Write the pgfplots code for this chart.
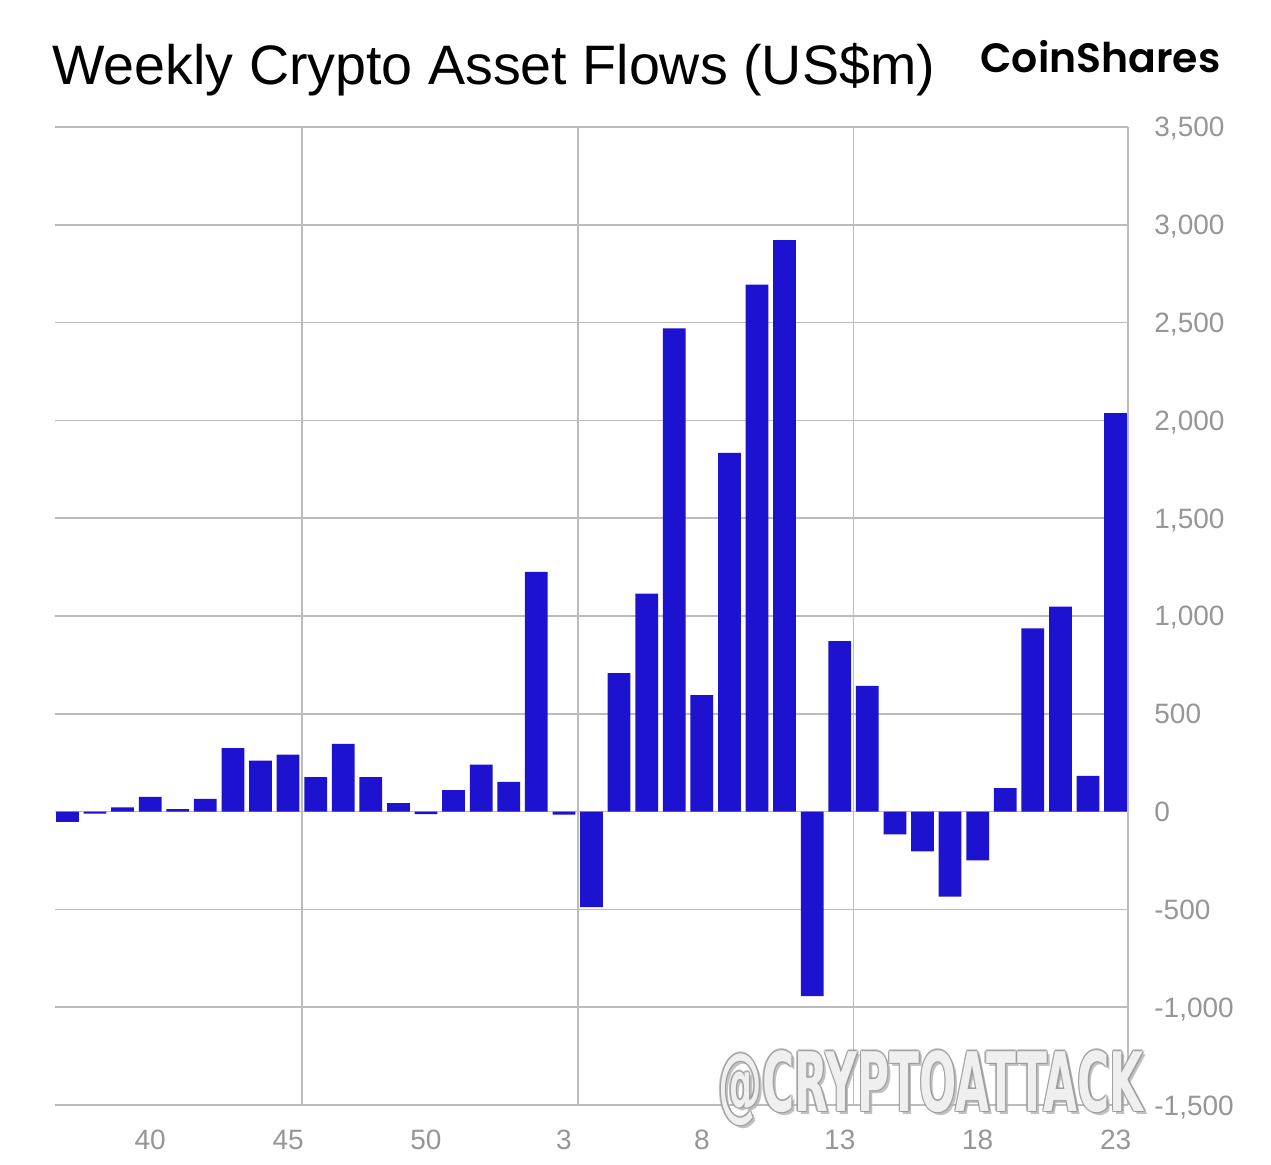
\documentclass[border=0pt]{standalone}
\usepackage{pgfplots}
\pgfplotsset{compat=1.18}
\usetikzlibrary{calc}
\usepackage{fontspec}
\setmainfont{Liberation Sans}
\newfontfamily\coin{Poppins SemiBold}
\newfontfamily\wm{DejaVu Sans}
\definecolor{barblue}{RGB}{28,18,208}
\definecolor{gridgray}{RGB}{188,188,188}
\definecolor{labgray}{RGB}{150,150,150}
\begin{document}
\begin{tikzpicture}
\useasboundingbox (0,0) rectangle (635.5pt,582pt);
\begin{axis}[
  at={(27.5pt,29.5pt)}, anchor=south west,
  scale only axis, width=536.5pt, height=489pt,
  xmin=-0.45, xmax=38.45, ymin=-1500, ymax=3500,
  enlargelimits=false,
  axis line style={draw=none},
  major tick length=0pt,
  ymajorgrids,
  grid style={draw=gridgray, line width=0.85pt},
  ytick={-1500,-1000,-500,0,500,1000,1500,2000,2500,3000,3500},
  yticklabels={{-1,500},{-1,000},{-500},{0},{500},{1,000},{1,500},{2,000},{2,500},{3,000},{3,500}},
  yticklabel pos=right,
  yticklabel style={anchor=base west, inner sep=0pt, xshift=13pt, yshift=-5pt, font=\fontsize{14pt}{16pt}\selectfont, text=labgray},
  xtick={3,8,13,18,23,28,33,38},
  xticklabels={40,45,50,3,8,13,18,23},
  xticklabel style={anchor=base, inner sep=0pt, yshift=-22pt, font=\fontsize{14pt}{16pt}\selectfont, text=labgray},
  extra x ticks={8.5,18.5,28.5,38.45},
  extra x tick labels={},
  extra x tick style={grid=major},
]
\addplot[ybar, bar width=11.35pt, fill=barblue, draw=none] coordinates {
(0,-52) (1,-10) (2,22) (3,75) (4,13) (5,65) (6,325) (7,260) (8,291) (9,176)
(10,346) (11,176) (12,43) (13,-13) (14,110) (15,240) (16,152) (17,1226) (18,-15) (19,-488)
(20,708) (21,1114) (22,2471) (23,596) (24,1834) (25,2694) (26,2922) (27,-943) (28,871) (29,643)
(30,-117) (31,-203) (32,-435) (33,-249) (34,120) (35,937) (36,1048) (37,183) (38,2037)
};
\end{axis}
\node[anchor=base west, inner sep=0pt, font=\fontsize{27.8pt}{31pt}\selectfont] at (26pt,539.5pt) {Weekly Crypto Asset Flows (US\$m)};
\node[anchor=base west, inner sep=0pt] at (490pt,545.6pt) {\resizebox{120pt}{!}{\coin CoinShares}};
% watermark
\begin{scope}
\node[inner sep=0pt, text=gray!60, opacity=0.8] at (467pt,36.5pt) {\scalebox{0.535}[1]{\wm\bfseries\fontsize{41pt}{45pt}\selectfont @CRYPTOATTACK}};
\foreach \dx/\dy in {0.7/0,-0.7/0,0/0.7,0/-0.7,0.5/0.5,-0.5/0.5,0.5/-0.5,-0.5/-0.5}{
\node[inner sep=0pt, text=gray!80, opacity=0.6] at ($(465.5pt,38pt)+(\dx pt,\dy pt)$) {\scalebox{0.535}[1]{\wm\bfseries\fontsize{41pt}{45pt}\selectfont @CRYPTOATTACK}};
}
\node[inner sep=0pt, text=white, opacity=0.85] at (465.5pt,38pt) {\scalebox{0.535}[1]{\wm\bfseries\fontsize{41pt}{45pt}\selectfont @CRYPTOATTACK}};
\end{scope}
\end{tikzpicture}
\end{document}
